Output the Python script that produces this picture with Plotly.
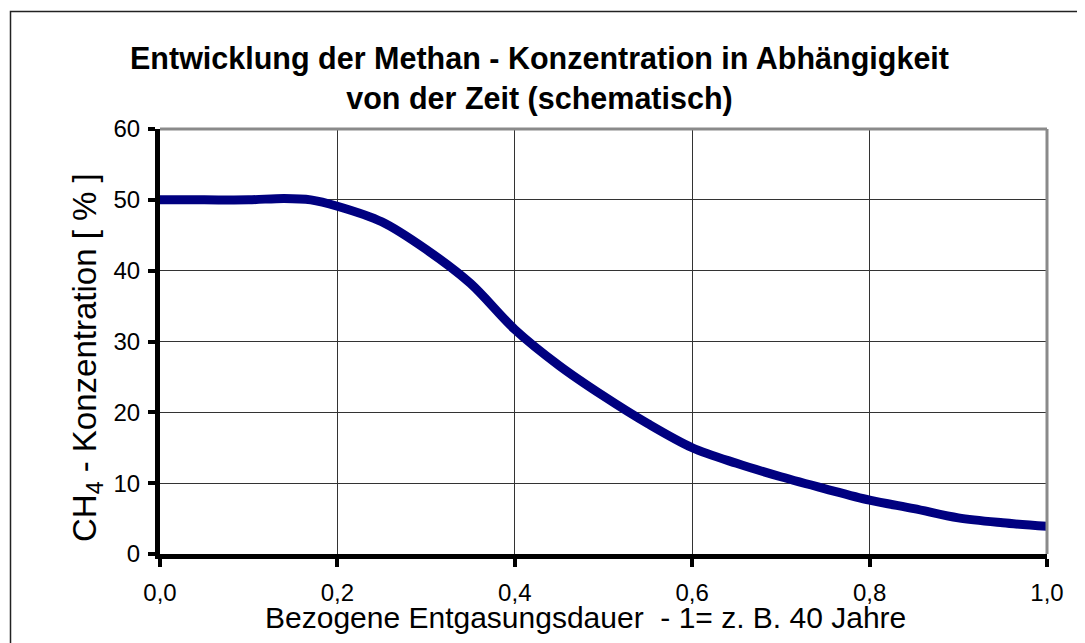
import plotly.graph_objects as go

# Data
x_vals = [0.0, 0.05, 0.10, 0.14, 0.17, 0.20, 0.25, 0.30, 0.35, 0.40, 0.45, 0.50,
          0.55, 0.60, 0.65, 0.70, 0.75, 0.80, 0.85, 0.90, 0.95, 1.0]
ch4_vals = [50.0, 50.0, 50.0, 50.2, 50.0, 49.1, 46.9, 43.0, 38.2, 31.7, 26.6, 22.3,
            18.4, 15.0, 12.8, 10.9, 9.2, 7.6, 6.4, 5.1, 4.4, 3.9]
x_ticks = [0.0, 0.2, 0.4, 0.6, 0.8, 1.0]
y_ticks = [0, 10, 20, 30, 40, 50, 60]

title_text = "<b>Entwicklung der Methan - Konzentration in Abhängigkeit<br>von der Zeit (schematisch)</b>"
x_title = "Bezogene Entgasungsdauer  - 1= z. B. 40 Jahre"
y_title = "CH<sub>4</sub> - Konzentration [ % ]"

FONT = "Liberation Sans, Arial, sans-serif"

# the page body has an 8px margin; compensate so the chart lands where the reference has it
OFF = 8
W, H = 1085 - OFF, 643 - OFF
L, R, T, B = 160 - OFF, 38, 129 - OFF, 89
pw, ph = W - L - R, H - T - B


def px(xp):
    # reference pixel x -> paper coordinate
    return (xp - 160) / pw


def py(yp):
    # reference pixel y -> paper coordinate
    return (554 - yp) / ph


fig = go.Figure()
fig.add_trace(go.Scatter(
    x=x_vals, y=ch4_vals, mode="lines",
    line=dict(color="#000080", width=9, shape="spline", smoothing=0.9),
    showlegend=False, hoverinfo="skip",
))

fig.update_layout(
    width=W, height=H,
    margin=dict(l=L, r=R, t=T, b=B, pad=0),
    paper_bgcolor="white", plot_bgcolor="white",
    separators=",.",
    font=dict(family=FONT, color="black"),
    showlegend=False,
)

fig.update_xaxes(
    range=[0, 1], tickvals=x_ticks, tickformat=".1f",
    showgrid=True, gridcolor="#333333", gridwidth=1,
    showline=True, linecolor="black", linewidth=5, mirror=False,
    ticks="outside", ticklen=8, tickwidth=4, tickcolor="black",
    tickfont=dict(size=24, family=FONT, color="black"),
    ticklabelstandoff=5, zeroline=False,
)
fig.update_yaxes(
    range=[0, 60], tickvals=y_ticks,
    showgrid=True, gridcolor="#333333", gridwidth=1,
    showline=True, linecolor="black", linewidth=5, mirror=False,
    ticks="outside", ticklen=7, tickwidth=4, tickcolor="black",
    tickfont=dict(size=24, family=FONT, color="black"),
    ticklabelstandoff=3, zeroline=False,
)

# gray top / right frame of plot area
fig.add_shape(type="line", xref="paper", yref="paper", x0=0, x1=1, y0=1, y1=1,
              line=dict(color="#8a8a8a", width=3))
fig.add_shape(type="line", xref="paper", yref="paper", x0=1, x1=1, y0=0, y1=1,
              line=dict(color="#8a8a8a", width=3))
# outer chart border
fig.add_shape(type="rect", xref="paper", yref="paper",
              x0=px(10.5), x1=px(1100), y0=py(11.5), y1=py(700),
              line=dict(color="#222222", width=1.5), fillcolor="rgba(0,0,0,0)")

fig.add_annotation(text=title_text, xref="paper", yref="paper",
                   x=px(539), y=py(79), xanchor="center", yanchor="middle",
                   showarrow=False, align="center",
                   font=dict(size=30.5, family=FONT, color="black"))
fig.add_annotation(text=x_title, xref="paper", yref="paper",
                   x=px(585), y=py(617), xanchor="center", yanchor="middle",
                   showarrow=False, font=dict(size=30, family=FONT, color="black"))
fig.add_annotation(text=y_title, xref="paper", yref="paper",
                   x=px(87), y=py(358), xanchor="center", yanchor="middle",
                   textangle=-90, showarrow=False,
                   font=dict(size=33, family=FONT, color="black"))

fig.write_html("out.html")
